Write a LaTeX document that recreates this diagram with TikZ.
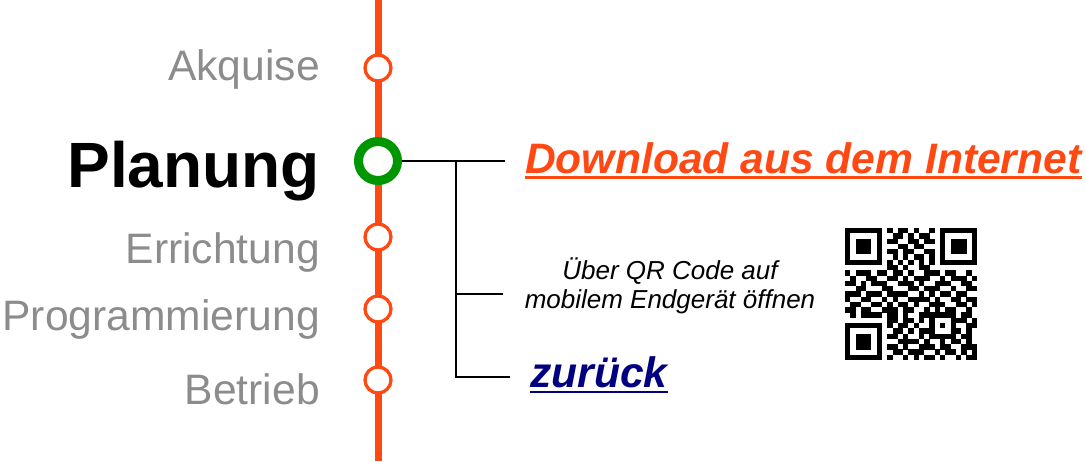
\documentclass[tikz,border=0pt]{standalone}
\usepackage{fontspec}
\setmainfont{Liberation Sans}
\usepackage{xstring}

\definecolor{lineorange}{RGB}{255,72,18}
\definecolor{phasegray}{RGB}{140,140,140}
\definecolor{activegreen}{RGB}{0,150,0}
\definecolor{linkblue}{RGB}{0,0,128}

\tikzstyle{phase} = [font=\fontsize{42.6}{48}\selectfont, text=phasegray, anchor=base east, inner sep=0pt]
\tikzstyle{current} = [font=\fontsize{64}{70}\selectfont\bfseries, anchor=base east, inner sep=0pt]
\tikzstyle{dot} = [circle, minimum size=26pt, inner sep=0pt, draw=lineorange, line width=3.3pt, fill=white]
\tikzstyle{activedot} = [circle, minimum size=39pt, inner sep=0pt, draw=activegreen, line width=9pt, fill=white]
\tikzstyle{branch} = [line width=2pt, black]
\tikzstyle{link} = [font=\fontsize{42.6}{48}\selectfont\bfseries\itshape, anchor=base west, inner sep=0pt]
\tikzstyle{hint} = [font=\fontsize{26}{29}\selectfont\itshape, align=center, anchor=base]

\begin{document}
\begin{tikzpicture}[x=1pt, y=-1pt]

\useasboundingbox (0,0) rectangle (1086,461);

\coordinate (top) at (378,0);
\coordinate (bottom) at (378,461);
\draw[lineorange, line width=7pt] (top) -- (bottom);

\node (akquisedot) [dot] at (378,68) {};
\node (planungdot) [activedot] at (378,161) {};
\node (errichtungdot) [dot] at (378,237) {};
\node (programmierungdot) [dot] at (378,309) {};
\node (betriebdot) [dot] at (378,380) {};

\node (akquise) [phase] at (320,80) {Akquise};
\node (planung) [current] at (320,187) {Planung};
\node (errichtung) [phase] at (320,263) {Errichtung};
\node (programmierung) [phase] at (320,330) {Programmierung};
\node (betrieb) [phase] at (320,404) {Betrieb};

\coordinate (fork) at (456,161);
\coordinate (downloadend) at (505,161);
\coordinate (qrend) at (503,294);
\coordinate (zurueckend) at (510,377);
\draw[branch] (planungdot) -- (downloadend);
\draw[branch] (fork) |- (zurueckend);
\draw[branch] (fork |- qrend) -- (qrend);

\node (download) [link, text=lineorange] at (525,173) {Download aus dem Internet};
\draw[lineorange, line width=2.5pt] ([yshift=-4.5pt]download.base west) -- ([yshift=-4.5pt]download.base east);

\node (zurueck) [link, text=linkblue] at (530,387) {zurück};
\draw[linkblue, line width=2.5pt] ([yshift=-5pt]zurueck.base west) -- ([yshift=-5pt]zurueck.base east);

\node (qrhint) [hint] at (670,308) {Über QR Code auf\\mobilem Endgerät öffnen};

% QR code, 25 x 25 modules
\begin{scope}[shift={(845,228)}]
\foreach \bits [count=\r from 0] in {
  1111111010110100101111111, 1000001001101011001000001, 1011101011001101101011101,
  1011101000110110001011101, 1011101011011001101011101, 1000001001010110101000001,
  1111111010101010101111111, 0000000011010011000000000, 1011101101101001110110010,
  0100110011010111001011101, 1101011100111010011100110, 0011000110001101110010011,
  1110111011110010101101100, 1001100101001111010011011, 0110011010110100111001101,
  1101100111011001010110010, 0101111011010011111110110, 0000000011011010100011101,
  1111111010110100101010011, 1000001001101011100011010, 1011101011010010111110110,
  1011101000111101001011010, 1011101011010011101100111, 1000001001101110010110101,
  1111111010010101101001011}{
  \foreach \c in {0,...,24}{
    \pgfmathtruncatemacro\n{\c+1}
    \StrChar{\bits}{\n}[\bit]
    \ifnum\bit=1 \fill (\c*5.28,\r*5.28) rectangle ++(5.35,5.35); \fi
  }
}
\end{scope}

\end{tikzpicture}
\end{document}
